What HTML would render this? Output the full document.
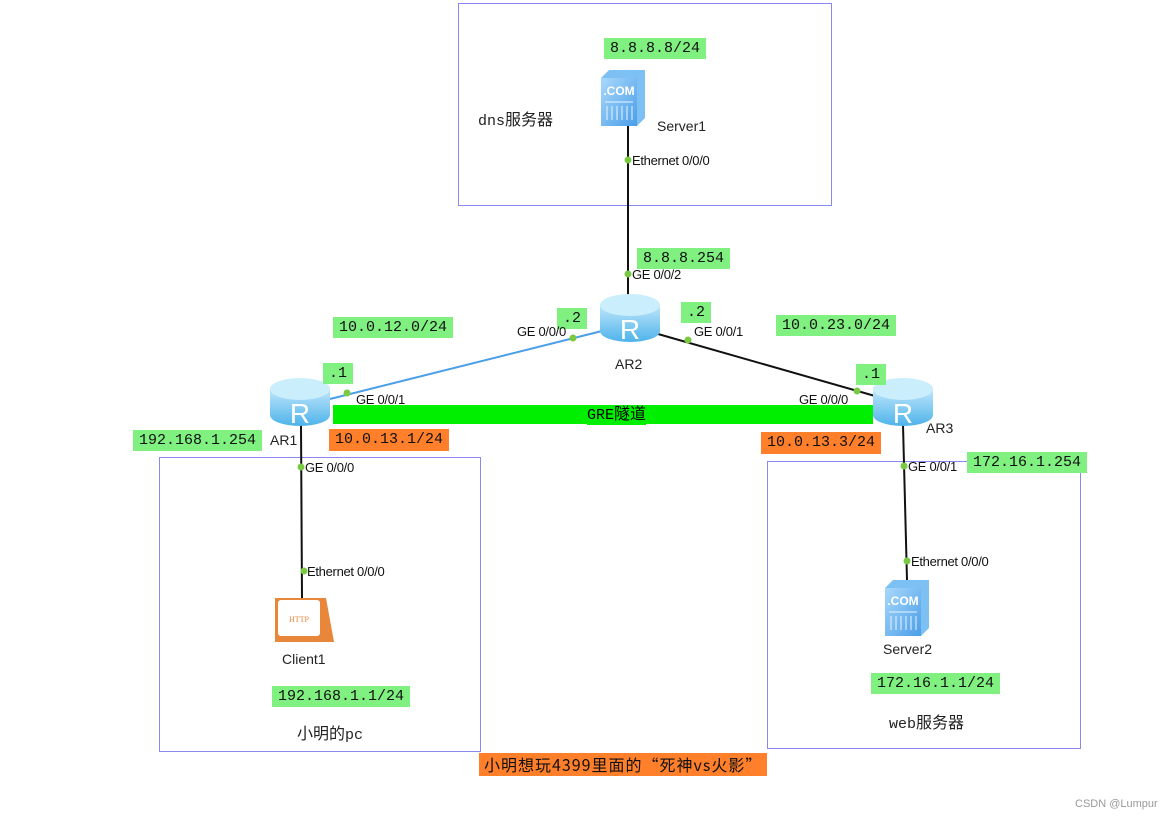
<!DOCTYPE html>
<html><head><meta charset="utf-8"><style>
body{margin:0;width:1171px;height:820px;background:#fff;position:relative;overflow:hidden;font-family:"Liberation Sans","Noto Sans CJK SC",sans-serif}
.a{position:absolute;white-space:nowrap}
.g{position:absolute;background:#80f080;font-family:"Liberation Mono","Noto Sans CJK SC",monospace;font-size:15px;line-height:21px;padding:0 6px;color:#111;white-space:nowrap}
.o{position:absolute;background:#ff7f2a;font-family:"Liberation Mono","Noto Sans CJK SC",monospace;font-size:15px;line-height:22px;padding:0 6px;color:#111;white-space:nowrap}
.s{position:absolute;font-size:13px;color:#111;white-space:nowrap;line-height:14px;letter-spacing:-0.3px}
.box{position:absolute;border:1px solid #8888ee}
.t{position:absolute;font-size:14px;color:#222;white-space:nowrap}
.c{font-size:16px}
.m{font-family:"Liberation Mono","Noto Sans CJK SC",monospace;font-size:15px}
</style></head><body>
<div class="box" style="left:458px;top:3px;width:372px;height:201px"></div>
<div class="box" style="left:159px;top:457px;width:320px;height:293px"></div>
<div class="box" style="left:767px;top:461px;width:312px;height:286px"></div>

<svg width="1171" height="820" style="position:absolute;left:0;top:0">
<defs>
<linearGradient id="rg" x1="0" y1="0" x2="0" y2="1"><stop offset="0" stop-color="#bfe6fb"/><stop offset="1" stop-color="#4eb3ea"/></linearGradient>
<linearGradient id="sg" x1="0" y1="0" x2="1" y2="1"><stop offset="0" stop-color="#a8d8fb"/><stop offset="1" stop-color="#4a9ee8"/></linearGradient>
<g id="r">
<path d="M0 12 V38 A30 11 0 0 0 60 38 V12 Z" fill="url(#rg)"/>
<ellipse cx="30" cy="12" rx="30" ry="11" fill="#cbeefc"/>
<text x="30" y="46" text-anchor="middle" font-size="28" fill="#fff" font-family="Liberation Sans">R</text>
</g>
<g id="sv">
<path d="M0 8 L8 0 H44 V48 L36 56 H0 Z" fill="#7cc0f4"/>
<rect x="0" y="8" width="36" height="48" fill="url(#sg)"/>
<text x="18" y="25" text-anchor="middle" font-size="12" font-weight="bold" fill="#fff" font-family="Liberation Sans">.COM</text>
<g stroke="#e8f4ff" stroke-width="1"><line x1="4" y1="32" x2="32" y2="32"/><line x1="6" y1="36" x2="6" y2="50"/><line x1="11" y1="36" x2="11" y2="50"/><line x1="16" y1="36" x2="16" y2="50"/><line x1="21" y1="36" x2="21" y2="50"/><line x1="26" y1="36" x2="26" y2="50"/><line x1="31" y1="36" x2="31" y2="50"/></g>
</g>
</defs>
<line x1="628" y1="120" x2="628" y2="300" stroke="#111" stroke-width="2"/>
<line x1="330" y1="399" x2="602" y2="331" stroke="#4a9ee8" stroke-width="2"/>
<line x1="658" y1="334" x2="875" y2="396" stroke="#111" stroke-width="2"/>
<line x1="301" y1="425" x2="302" y2="598" stroke="#111" stroke-width="2"/>
<line x1="903" y1="425" x2="907" y2="580" stroke="#111" stroke-width="2"/>
<rect x="333" y="405" width="540" height="19" fill="#00ee00"/>
<g fill="#7ac943">
<circle cx="628" cy="160" r="3.5"/><circle cx="628" cy="274" r="3.5"/>
<circle cx="347" cy="393" r="3.5"/><circle cx="573" cy="338" r="3.5"/>
<circle cx="688" cy="340" r="3.5"/><circle cx="857" cy="391" r="3.5"/>
<circle cx="301" cy="467" r="3.5"/><circle cx="304" cy="571" r="3.5"/>
<circle cx="904" cy="466" r="3.5"/><circle cx="907" cy="561" r="3.5"/>
</g>
<use href="#r" x="600" y="293"/>
<use href="#r" x="270" y="377"/>
<use href="#r" x="873" y="377"/>
<use href="#sv" x="601" y="70"/>
<use href="#sv" x="885" y="580"/>
<path d="M275 598 H326 L334 642 H275 Z" fill="#e8863a"/>
<rect x="278" y="600" width="42" height="36" rx="3" fill="#fff"/>
<text x="299" y="622" text-anchor="middle" font-size="8" fill="#e8863a" font-family="Liberation Serif">HTTP</text>
</svg>

<div class="g" style="left:604px;top:38px">8.8.8.8/24</div>
<div class="t c" style="left:478px;top:106px"><span class="m">dns</span>服务器</div>
<div class="t" style="left:657px;top:118px">Server1</div>
<div class="s" style="left:632px;top:154px">Ethernet 0/0/0</div>
<div class="g" style="left:637px;top:248px">8.8.8.254</div>
<div class="s" style="left:632px;top:268px">GE 0/0/2</div>
<div class="t" style="left:615px;top:356px">AR2</div>
<div class="g" style="left:557px;top:308px">.2</div>
<div class="s" style="left:517px;top:325px">GE 0/0/0</div>
<div class="g" style="left:681px;top:302px">.2</div>
<div class="s" style="left:694px;top:325px">GE 0/0/1</div>
<div class="g" style="left:333px;top:317px">10.0.12.0/24</div>
<div class="g" style="left:776px;top:315px">10.0.23.0/24</div>
<div class="g" style="left:323px;top:363px">.1</div>
<div class="s" style="left:356px;top:393px">GE 0/0/1</div>
<div class="g" style="left:856px;top:364px">.1</div>
<div class="s" style="left:799px;top:393px">GE 0/0/0</div>
<div class="a" style="left:587px;top:405px;font-size:16px;line-height:19px;background:#00ee00"><span class="m">GRE</span>隧道</div>
<div class="o" style="left:329px;top:429px">10.0.13.1/24</div>
<div class="o" style="left:761px;top:432px">10.0.13.3/24</div>
<div class="t" style="left:270px;top:432px">AR1</div>
<div class="t" style="left:926px;top:420px">AR3</div>
<div class="g" style="left:133px;top:430px">192.168.1.254</div>
<div class="s" style="left:305px;top:461px">GE 0/0/0</div>
<div class="s" style="left:307px;top:565px">Ethernet 0/0/0</div>
<div class="t" style="left:282px;top:651px">Client1</div>
<div class="g" style="left:272px;top:686px">192.168.1.1/24</div>
<div class="t c" style="left:297px;top:720px">小明的<span class="m">pc</span></div>
<div class="s" style="left:908px;top:460px">GE 0/0/1</div>
<div class="g" style="left:967px;top:452px">172.16.1.254</div>
<div class="s" style="left:911px;top:555px">Ethernet 0/0/0</div>
<div class="t" style="left:883px;top:641px">Server2</div>
<div class="g" style="left:871px;top:673px">172.16.1.1/24</div>
<div class="t c" style="left:889px;top:709px"><span class="m">web</span>服务器</div>
<div class="o" style="left:479px;top:753px;font-size:16px;line-height:23px;padding:0 5px;letter-spacing:1px;font-family:'Noto Sans CJK SC',sans-serif">小明想玩4399里面的“死神vs火影”</div>
<div class="a" style="left:1075px;top:798px;font-size:11px;color:#999">CSDN @Lumpur</div>
</body></html>
